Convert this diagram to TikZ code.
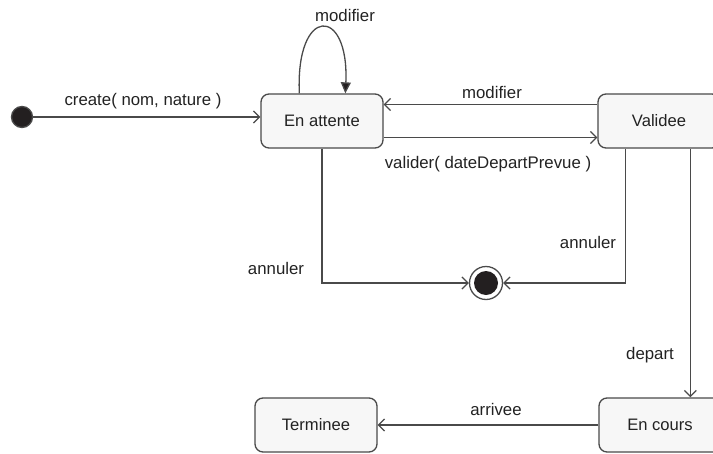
\documentclass[tikz,border=0pt]{standalone}
\usepackage{fontspec}
\setmainfont{Liberation Sans}
\usetikzlibrary{arrows.meta,calc}
\definecolor{linec}{HTML}{4A4A4A}
\definecolor{boxfill}{HTML}{F7F7F7}
\definecolor{dotc}{HTML}{231F20}
\definecolor{txt}{HTML}{222222}
\begin{document}
\begin{tikzpicture}[x=1pt,y=-1pt,
  state/.style={draw=linec, fill=boxfill, rounded corners=8pt, line width=1.3pt,
    minimum width=122pt, minimum height=54pt, inner sep=0pt,
    font=\fontsize{16.6}{19}\selectfont, text=txt},
  lbl/.style={font=\fontsize{16.8}{19}\selectfont, text=txt, inner sep=0pt},
  arr/.style={draw=linec, line width=1.3pt, -{Straight Barb[length=6pt,width=12pt,line width=1.3pt]}},
  farr/.style={draw=linec, line width=1.3pt, -{Triangle[length=11pt,width=10pt,fill=dotc]}}]
\useasboundingbox (0,0) rectangle (713,453);

\node[circle, draw=linec, fill=dotc, line width=1.3pt, minimum size=21pt, inner sep=0pt] (init) at (22,117) {};
\node[state] (ea) at (322,121) {En attente};
\node[state] (val) at (659,121) {Validee};
\node[state] (enc) at (660,425) {En cours};
\node[state] (ter) at (316,425) {Terminee};
\node[circle, draw=linec, fill=white, line width=1.3pt, minimum size=33pt, inner sep=0pt] (fin) at (486,283) {};
\fill[dotc] (fin.center) circle (12);

\coordinate (loopA) at ($(ea.north west)+(39,0)$);
\coordinate (loopB) at ($(ea.north west)+(85,0)$);
\coordinate (vA) at ($(val.south west)+(28,0)$);
\coordinate (vB) at ($(val.south west)+(93,0)$);

\draw[arr] (init) -- (init -| ea.west);
\draw[farr] (loopA) .. controls ($(loopA)+(-4,-88)$) and ($(loopB)+(4,-88)$) .. (loopB);
\draw[arr] ($(val.west)+(0,-16.5)$) -- ($(ea.east)+(0,-16.5)$);
\draw[arr] ($(ea.east)+(0,16.5)$) -- ($(val.west)+(0,16.5)$);
\draw[arr] (ea.south) |- (fin.west);
\draw[arr] (vA) |- (fin.east);
\draw[arr] (vB) -- (vB |- enc.north);
\draw[arr] (enc.west) -- (ter.east);

\node[lbl] (l1) at (143,101) {create( nom, nature )};
\node[lbl] (l2) at (345,15) {modifier};
\node[lbl] (l3) at (492,92) {modifier};
\node[lbl] (l4) at (488,164) {valider( dateDepartPrevue )};
\node[lbl] (l5) at (276,268) {annuler};
\node[lbl] (l6) at (588,242) {annuler};
\node[lbl] (l7) at (650,355) {depart};
\node[lbl] (l8) at (496,409) {arrivee};
\end{tikzpicture}
\end{document}
